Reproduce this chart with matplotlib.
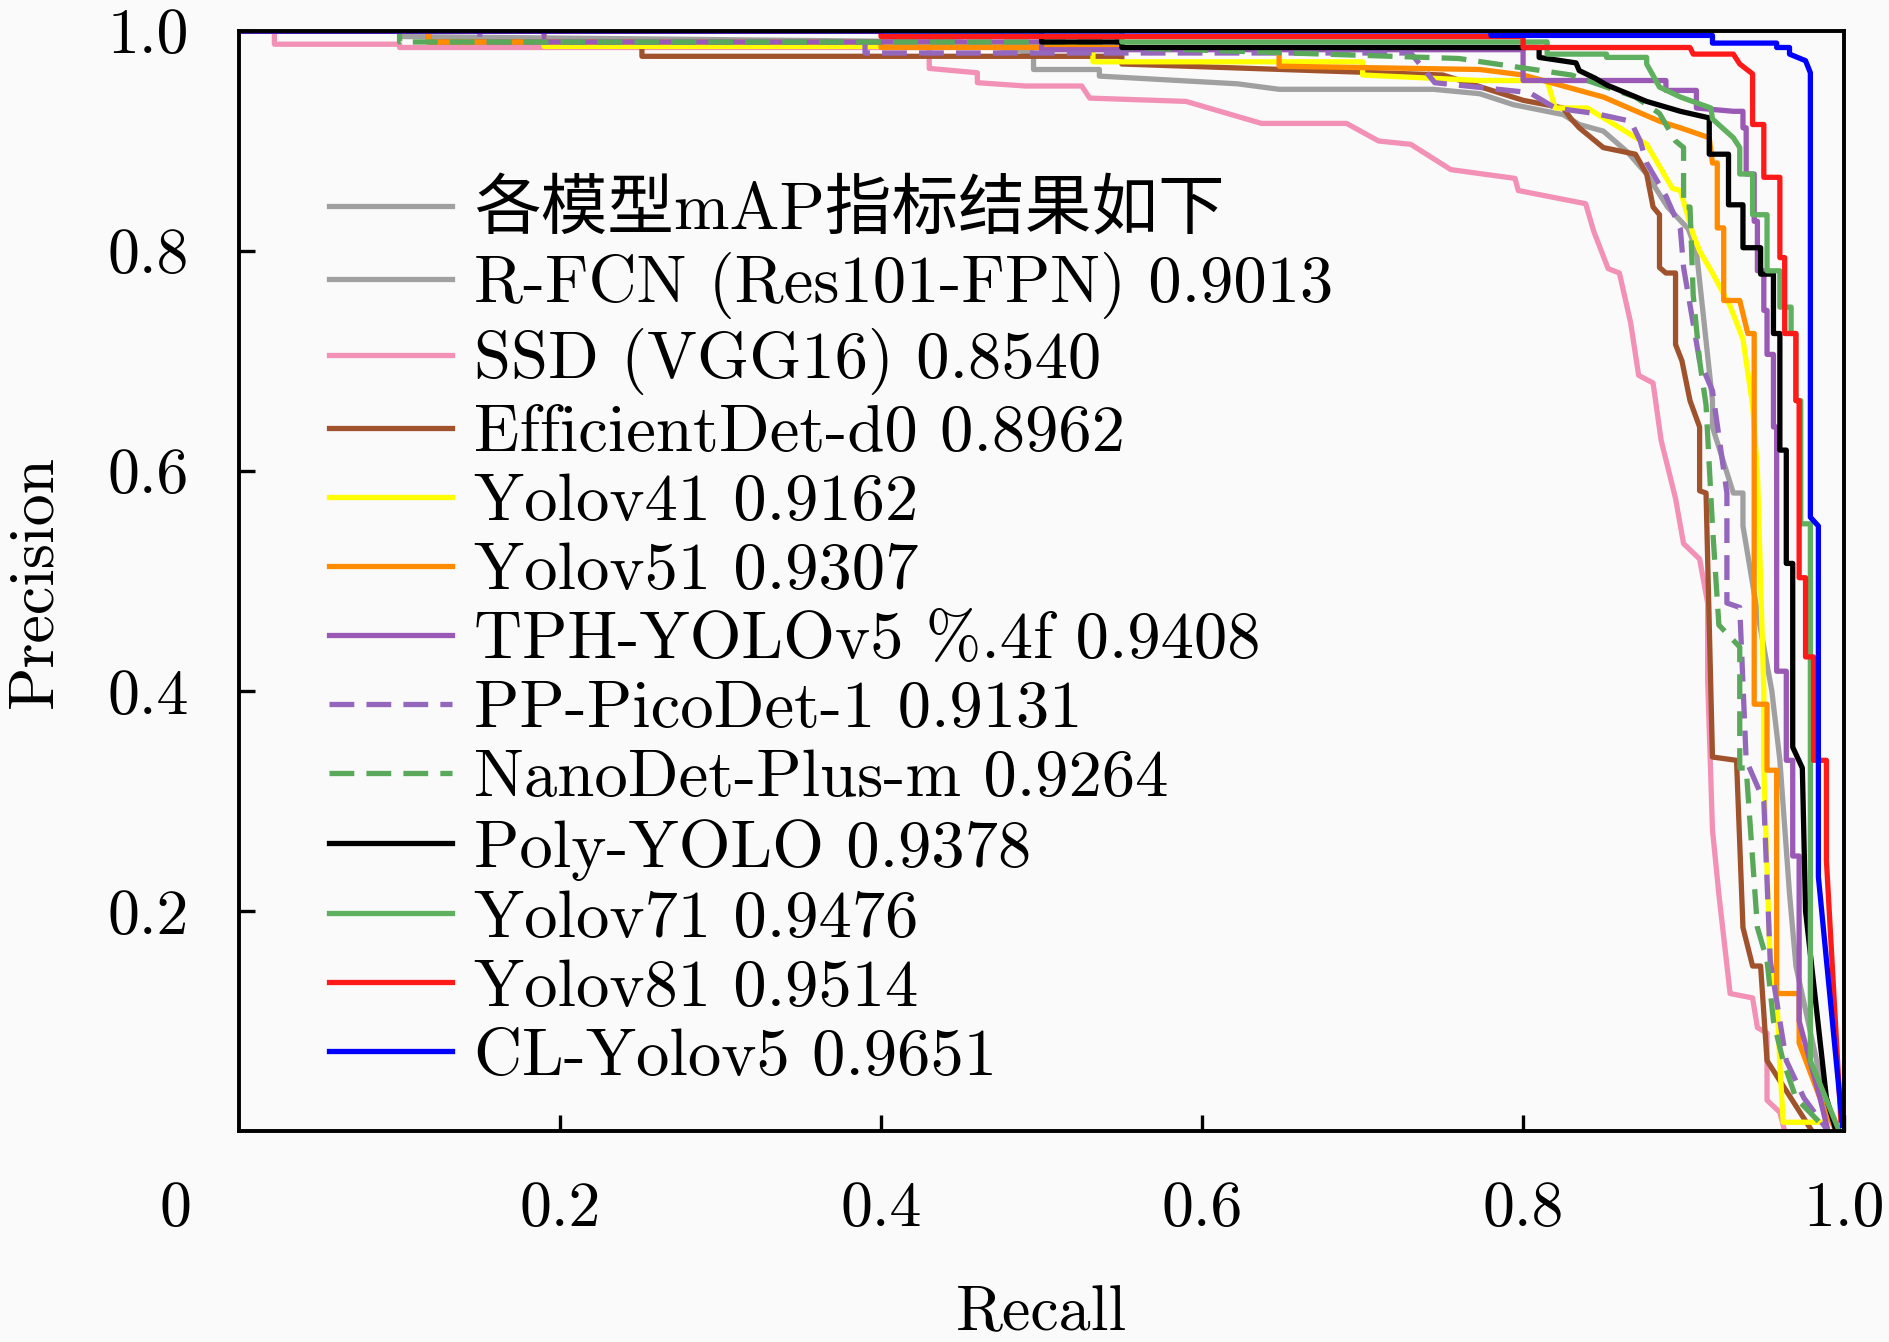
import matplotlib
matplotlib.use('Agg')
import matplotlib.pyplot as plt

plt.rcParams['font.family'] = ['cmr10', 'Noto Sans CJK SC']
plt.rcParams['axes.formatter.use_mathtext'] = True
plt.rcParams['axes.unicode_minus'] = False

# ---------------- data (recall, precision) ----------------
title_entry = '各模型mAP指标结果如下'

rfcn_r = [0.0, 0.10, 0.10, 0.45, 0.495, 0.495, 0.536, 0.536, 0.622, 0.648, 0.744, 0.773, 0.794, 0.825,
          0.835, 0.85, 0.865, 0.877, 0.89, 0.903, 0.908, 0.918, 0.918, 0.931, 0.937, 0.937, 0.945, 0.955,
          0.96, 0.966, 0.97, 0.985, 0.995]
rfcn_p = [1.0, 1.0, 0.995, 0.99, 0.98, 0.965, 0.965, 0.959, 0.952, 0.947, 0.947, 0.943, 0.933, 0.924,
          0.915, 0.909, 0.89, 0.87, 0.84, 0.82, 0.80, 0.664, 0.64, 0.58, 0.58, 0.55, 0.48, 0.40,
          0.337, 0.216, 0.15, 0.05, 0.0]

ssd_r = [0.022, 0.022, 0.10, 0.10, 0.43, 0.43, 0.46, 0.46, 0.49, 0.525, 0.53, 0.59, 0.637, 0.69, 0.71,
         0.73, 0.755, 0.795, 0.797, 0.839, 0.844, 0.853, 0.860, 0.867, 0.872, 0.881, 0.886, 0.895, 0.900,
         0.910, 0.915, 0.915, 0.918, 0.922, 0.929, 0.943, 0.946, 0.952, 0.952, 0.960, 0.963]
ssd_p = [1.0, 0.988, 0.988, 0.985, 0.985, 0.966, 0.962, 0.953, 0.95, 0.95, 0.939, 0.936, 0.916, 0.916, 0.90,
         0.897, 0.874, 0.866, 0.855, 0.843, 0.818, 0.784, 0.78, 0.735, 0.687, 0.68, 0.628, 0.575, 0.534,
         0.52, 0.48, 0.41, 0.274, 0.215, 0.125, 0.121, 0.094, 0.089, 0.028, 0.017, 0.0]

effdet_r = [0.0, 0.118, 0.118, 0.251, 0.251, 0.55, 0.55, 0.75, 0.80, 0.825, 0.83, 0.835, 0.84, 0.85, 0.87,
            0.877, 0.881, 0.885, 0.885, 0.889, 0.895, 0.895, 0.899, 0.904, 0.910, 0.910, 0.914, 0.918,
            0.933, 0.937, 0.943, 0.948, 0.952, 0.98]
effdet_p = [1.0, 1.0, 0.99, 0.99, 0.977, 0.977, 0.97, 0.96, 0.937, 0.930, 0.92, 0.912, 0.906, 0.894, 0.888,
            0.870, 0.84, 0.833, 0.785, 0.78, 0.78, 0.715, 0.70, 0.664, 0.64, 0.582, 0.58, 0.34,
            0.337, 0.185, 0.15, 0.15, 0.064, 0.0]

yolov4_r = [0.0, 0.19, 0.19, 0.532, 0.532, 0.70, 0.70, 0.773, 0.815, 0.82, 0.84, 0.877, 0.893, 0.898,
            0.906, 0.910, 0.918, 0.929, 0.937, 0.943, 0.946, 0.950, 0.950, 0.954, 0.958, 0.960, 0.962,
            0.962, 0.985]
yolov4_p = [1.0, 1.0, 0.986, 0.986, 0.972, 0.972, 0.96, 0.955, 0.955, 0.93, 0.93, 0.897, 0.857, 0.855,
            0.815, 0.80, 0.78, 0.75, 0.72, 0.66, 0.60, 0.40, 0.33, 0.15, 0.125, 0.06, 0.01,
            0.008, 0.008]

yolov5_r = [0.0, 0.118, 0.118, 0.40, 0.40, 0.648, 0.648, 0.773, 0.80, 0.85, 0.885, 0.898, 0.916, 0.918,
            0.921, 0.921, 0.925, 0.925, 0.935, 0.940, 0.944, 0.944, 0.952, 0.952, 0.958, 0.958, 0.972,
            0.972, 0.985, 0.995]
yolov5_p = [1.0, 1.0, 0.99, 0.99, 0.985, 0.985, 0.968, 0.965, 0.96, 0.94, 0.918, 0.912, 0.903, 0.88,
            0.88, 0.821, 0.821, 0.755, 0.755, 0.725, 0.725, 0.388, 0.388, 0.328, 0.328, 0.125, 0.125,
            0.08, 0.03, 0.0]

tph_r = [0.0, 0.19, 0.19, 0.50, 0.50, 0.80, 0.80, 0.889, 0.889, 0.908, 0.908, 0.931, 0.937, 0.937, 0.939,
         0.939, 0.944, 0.944, 0.946, 0.946, 0.950, 0.950, 0.952, 0.952, 0.956, 0.956, 0.958, 0.958, 0.964,
         0.964, 0.968, 0.968, 0.972, 0.972, 0.985, 0.99]
tph_p = [1.0, 1.0, 0.99, 0.99, 0.983, 0.983, 0.955, 0.955, 0.946, 0.946, 0.930, 0.927, 0.927, 0.912, 0.912,
         0.870, 0.870, 0.827, 0.827, 0.782, 0.782, 0.746, 0.746, 0.706, 0.706, 0.64, 0.64, 0.418, 0.418,
         0.337, 0.337, 0.25, 0.25, 0.10, 0.03, 0.0]

pico_r = [0.0, 0.15, 0.15, 0.39, 0.39, 0.73, 0.745, 0.804, 0.82, 0.845, 0.867, 0.873, 0.877, 0.889, 0.898,
          0.900, 0.910, 0.918, 0.927, 0.927, 0.935, 0.939, 0.950, 0.954, 0.960, 0.964, 0.975, 0.99]
pico_p = [1.0, 1.0, 0.99, 0.99, 0.98, 0.98, 0.953, 0.944, 0.93, 0.925, 0.918, 0.90, 0.88, 0.85, 0.82,
          0.785, 0.70, 0.673, 0.58, 0.48, 0.476, 0.337, 0.30, 0.155, 0.10, 0.064, 0.03, 0.0]

nano_r = [0.0, 0.10, 0.10, 0.55, 0.55, 0.76, 0.83, 0.87, 0.885, 0.895, 0.900, 0.900, 0.904, 0.906, 0.910,
          0.914, 0.918, 0.922, 0.935, 0.935, 0.939, 0.946, 0.952, 0.956, 0.962, 0.970, 0.99]
nano_p = [1.0, 1.0, 0.99, 0.99, 0.985, 0.975, 0.96, 0.94, 0.925, 0.90, 0.894, 0.84, 0.84, 0.76, 0.70,
          0.66, 0.55, 0.46, 0.44, 0.33, 0.33, 0.185, 0.155, 0.10, 0.064, 0.03, 0.0]

poly_r = [0.0, 0.5, 0.5, 0.55, 0.55, 0.810, 0.810, 0.833, 0.835, 0.845, 0.852, 0.867, 0.877, 0.898, 0.916,
          0.916, 0.928, 0.928, 0.937, 0.937, 0.948, 0.948, 0.956, 0.956, 0.960, 0.960, 0.964, 0.964, 0.968,
          0.968, 0.974, 0.976, 0.989, 0.995]
poly_p = [1.0, 1.0, 0.99, 0.99, 0.985, 0.985, 0.976, 0.971, 0.964, 0.957, 0.951, 0.942, 0.936, 0.927, 0.921,
          0.888, 0.888, 0.842, 0.842, 0.803, 0.803, 0.779, 0.779, 0.725, 0.725, 0.619, 0.619, 0.516, 0.516,
          0.349, 0.33, 0.2, 0.03, 0.0]

yolov7_r = [0.0, 0.55, 0.55, 0.815, 0.815, 0.852, 0.852, 0.877, 0.877, 0.885, 0.898, 0.917, 0.918, 0.931,
            0.935, 0.935, 0.943, 0.943, 0.952, 0.952, 0.960, 0.960, 0.967, 0.967, 0.970, 0.970, 0.973,
            0.973, 0.979, 0.979, 0.997]
yolov7_p = [1.0, 1.0, 0.99, 0.99, 0.979, 0.979, 0.976, 0.976, 0.970, 0.949, 0.940, 0.93, 0.92, 0.903,
            0.894, 0.870, 0.870, 0.833, 0.833, 0.782, 0.782, 0.749, 0.749, 0.725, 0.725, 0.664, 0.664,
            0.552, 0.552, 0.064, 0.0]

yolov8_r = [0.0, 0.40, 0.40, 0.80, 0.80, 0.904, 0.906, 0.931, 0.935, 0.943, 0.943, 0.950, 0.950, 0.960,
            0.960, 0.963, 0.963, 0.970, 0.970, 0.972, 0.972, 0.976, 0.976, 0.981, 0.981, 0.989, 0.989, 0.998]
yolov8_p = [1.0, 1.0, 0.995, 0.995, 0.985, 0.985, 0.979, 0.979, 0.970, 0.961, 0.915, 0.915, 0.867, 0.867,
            0.794, 0.794, 0.725, 0.725, 0.664, 0.664, 0.503, 0.503, 0.431, 0.431, 0.337, 0.337, 0.246, 0.01]

cl_r = [0.0, 0.78, 0.78, 0.918, 0.918, 0.958, 0.958, 0.966, 0.966, 0.976, 0.979, 0.979, 0.984, 0.984, 0.999]
cl_p = [1.0, 1.0, 0.996, 0.996, 0.989, 0.989, 0.985, 0.985, 0.979, 0.973, 0.962, 0.558, 0.55, 0.231, 0.005]

labels = ['R-FCN (Res101-FPN) 0.9013', 'SSD (VGG16) 0.8540', 'EfficientDet-d0 0.8962',
          'Yolov41 0.9162', 'Yolov51 0.9307', 'TPH-YOLOv5 %.4f 0.9408', 'PP-PicoDet-1 0.9131',
          'NanoDet-Plus-m 0.9264', 'Poly-YOLO 0.9378', 'Yolov71 0.9476', 'Yolov81 0.9514',
          'CL-Yolov5 0.9651']
curves = [(rfcn_r, rfcn_p), (ssd_r, ssd_p), (effdet_r, effdet_p), (yolov4_r, yolov4_p),
          (yolov5_r, yolov5_p), (tph_r, tph_p), (pico_r, pico_p), (nano_r, nano_p),
          (poly_r, poly_p), (yolov7_r, yolov7_p), (yolov8_r, yolov8_p), (cl_r, cl_p)]
colors = ['#a0a0a0', '#f291b5', '#a0522d', '#ffff00', '#ff8c00', '#9b59b6', '#9467bd',
          '#5aa95a', '#000000', '#5fb05f', '#ff1a1a', '#0000ff']
styles = ['-', '-', '-', '-', '-', '-', '--', '--', '-', '-', '-', '-']

# ---------------- plot ----------------
fig = plt.figure(figsize=(9.45, 6.71), dpi=200, facecolor='#fafafa')
ax = fig.add_axes([0.1265, 0.1572, 0.8492, 0.8197])
ax.set_facecolor('#fafafa')

lw = 1.9
ax.plot([], [], color='#a0a0a0', lw=lw, label=title_entry)
for (r, p), lab, c, ls in zip(curves, labels, colors, styles):
    line, = ax.plot(r, p, color=c, lw=lw, ls=ls, label=lab)
    if ls == '--':
        line.set_dashes((4.7, 2.3))

ax.set_xlim(0, 1)
ax.set_ylim(0, 1)
ax.set_xticks([0.2, 0.4, 0.6, 0.8, 1.0])
ax.set_xticklabels(['0.2', '0.4', '0.6', '0.8', '1.0'])
ax.set_yticks([0.2, 0.4, 0.6, 0.8, 1.0])
ax.set_yticklabels(['0.2', '0.4', '0.6', '0.8', '1.0'])
ax.tick_params(direction='in', length=5.8, width=1.2, pad=18, labelsize=23)
ax.text(-0.0399, -0.0455, '0', transform=ax.transAxes, ha='center', va='top', fontsize=23)
for s in ax.spines.values():
    s.set_linewidth(1.4)

ax.set_xlabel('Recall', fontsize=23)
ax.set_ylabel('Precision', fontsize=23)
ax.xaxis.set_label_coords(0.5, -0.1405)
ax.yaxis.set_label_coords(-0.109, 0.5)

leg = ax.legend(loc='upper left', bbox_to_anchor=(0.056, 0.864), frameon=False, fontsize=24,
                handlelength=1.84, handletextpad=0.33, labelspacing=0.14, borderpad=0,
                borderaxespad=0)

fig.savefig('out.png', dpi=200, facecolor=fig.get_facecolor())
